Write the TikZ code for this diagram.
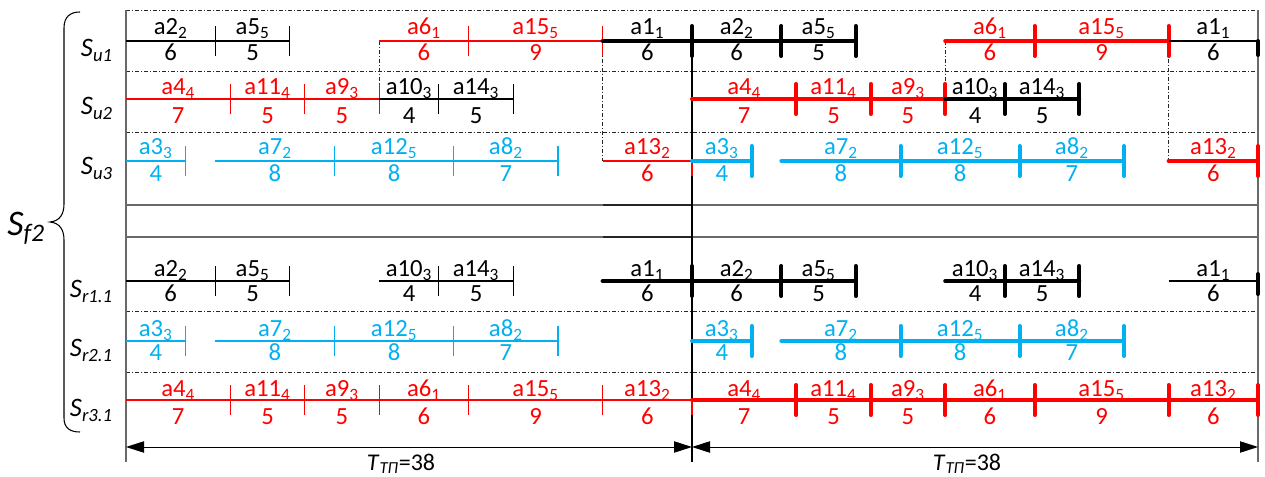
\documentclass[tikz,border=0pt]{standalone}
\usepackage{fontspec}
\setmainfont{Carlito}
\usetikzlibrary{arrows.meta}
\definecolor{cred}{RGB}{255,0,0}
\definecolor{cblue}{RGB}{0,176,240}
\definecolor{cgray}{RGB}{105,105,105}
\newcommand\rowY{}\newcommand\topB{}\newcommand\botB{}\newcommand\rowN{}
\newcommand\setrow[4]{\renewcommand\rowN{#1}\renewcommand\rowY{#2}\renewcommand\topB{#3}\renewcommand\botB{#4}}
\newcommand\tx[1]{126+14.8947*(#1)}
\newcommand\A[2]{a#1\textsubscript{#2}}
\newcommand\seg[7][-15]{%
  \draw[bar#3,draw=#2] ({\tx{#4}},{\rowY}) -- ({\tx{#5}},{\rowY});
  \draw[bar#3,draw=#2] ({\tx{#5}},{\rowY+(#1)}) -- ({\tx{#5}},{\rowY+15});
  \node[tasklab,text=#2,anchor=base] (\rowN-#5-a) at ({\tx{(#4+#5)/2}},{\topB}) {#6};
  \node[tasklab,text=#2,anchor=base] (\rowN-#5-b) at ({\tx{(#4+#5)/2}},{\botB}) {#7};
}
\begin{document}
\begin{tikzpicture}[x=0.75pt,y=-0.75pt,
  barthin/.style={line width=0.9pt},
  barthick/.style={line width=3pt,line cap=round},
  tasklab/.style={font=\fontsize{18.5}{20}\selectfont,inner sep=0pt},
  rowlab/.style={font=\fontsize{20}{22}\selectfont\itshape,inner sep=0pt,anchor=base east},
  tlab/.style={font=\fontsize{18}{20}\selectfont,inner sep=0pt,anchor=base},
  dashdotline/.style={line width=0.6pt,draw=black!85,dash pattern=on 3pt off 1.5pt on 0.75pt off 1.5pt},
  grayline/.style={line width=0.8pt,draw=cgray},
  dimline/.style={line width=0.7pt,{Triangle[length=13.5pt,width=8.5pt]}-{Triangle[length=13.5pt,width=8.5pt]}}]
\useasboundingbox (0,0) rectangle (1265,477);
% grid
\foreach \yy in {10,71,132,311,372}{\draw[dashdotline] (126,\yy) -- (1258,\yy);}
\foreach \yy in {205,237}{\draw[grayline] (126,\yy) -- (1258,\yy);
  \draw[line width=0.8pt,black!85] ({\tx{32}},\yy) -- ({\tx{38}},\yy);}
\coordinate (L0) at (126,10); \coordinate (L1) at (126,462);
\coordinate (R0) at (1258,10); \coordinate (R1) at (1258,462);
\coordinate (M0) at (692,41); \coordinate (M1) at (692,462);
\draw[grayline] (L0) -- (L1);
\draw[grayline] (R0) -- (R1);
\draw[line width=0.8pt] (M0) -- (M1);
% dash-dot connectors
\draw[dashdotline] ({\tx{17}},41) -- ({\tx{17}},99);
\draw[dashdotline] ({\tx{32}},41) -- ({\tx{32}},161);
\draw[dashdotline] ({\tx{55}},41) -- ({\tx{55}},99);
\draw[dashdotline] ({\tx{70}},41) -- ({\tx{70}},161);
% Su1
\setrow{su1}{41}{35}{61}
\seg{black}{thin}{0}{6}{\A{2}{2}}{6}
\seg{black}{thin}{6}{11}{\A{5}{5}}{5}
\seg{cred}{thin}{17}{23}{\A{6}{1}}{6}
\seg{cred}{thin}{23}{32}{\A{15}{5}}{9}
\seg{black}{thick}{32}{38}{\A{1}{1}}{6}
\seg{black}{thick}{38}{44}{\A{2}{2}}{6}
\seg{black}{thick}{44}{49}{\A{5}{5}}{5}
\seg{cred}{thick}{55}{61}{\A{6}{1}}{6}
\seg{cred}{thick}{61}{70}{\A{15}{5}}{9}
\seg[0]{black}{thin}{70}{76}{\A{1}{1}}{6}
\draw[barthick,black] ({\tx{76}},{\rowY}) -- ({\tx{76}},{\rowY+14});
% Su2
\setrow{su2}{99}{95}{124}
\seg{cred}{thin}{0}{7}{\A{4}{4}}{7}
\seg{cred}{thin}{7}{12}{\A{11}{4}}{5}
\seg{cred}{thin}{12}{17}{\A{9}{3}}{5}
\seg{black}{thin}{17}{21}{\A{10}{3}}{4}
\seg{black}{thin}{21}{26}{\A{14}{3}}{5}
\seg{cred}{thick}{38}{45}{\A{4}{4}}{7}
\seg{cred}{thick}{45}{50}{\A{11}{4}}{5}
\seg{cred}{thick}{50}{55}{\A{9}{3}}{5}
\seg{black}{thick}{55}{59}{\A{10}{3}}{4}
\seg{black}{thick}{59}{64}{\A{14}{3}}{5}
% Su3
\setrow{su3}{161}{155}{182}
\seg{cblue}{thin}{0}{4}{\A{3}{3}}{4}
\seg{cblue}{thin}{6}{14}{\A{7}{2}}{8}
\seg{cblue}{thin}{14}{22}{\A{12}{5}}{8}
\seg{cblue}{thin}{22}{29}{\A{8}{2}}{7}
\seg[0]{cred}{thin}{32}{38}{\A{13}{2}}{6}
\seg{cblue}{thick}{38}{42}{\A{3}{3}}{4}
\seg{cblue}{thick}{44}{52}{\A{7}{2}}{8}
\seg{cblue}{thick}{52}{60}{\A{12}{5}}{8}
\seg{cblue}{thick}{60}{67}{\A{8}{2}}{7}
\seg{cred}{thick}{70}{76}{\A{13}{2}}{6}
% Sr1.1
\setrow{sr11}{281}{277}{302}
\seg{black}{thin}{0}{6}{\A{2}{2}}{6}
\seg{black}{thin}{6}{11}{\A{5}{5}}{5}
\seg{black}{thin}{17}{21}{\A{10}{3}}{4}
\seg{black}{thin}{21}{26}{\A{14}{3}}{5}
\seg{black}{thick}{32}{38}{\A{1}{1}}{6}
\seg{black}{thick}{38}{44}{\A{2}{2}}{6}
\seg{black}{thick}{44}{49}{\A{5}{5}}{5}
\seg{black}{thick}{55}{59}{\A{10}{3}}{4}
\seg{black}{thick}{59}{64}{\A{14}{3}}{5}
\seg[0]{black}{thin}{70}{76}{\A{1}{1}}{6}
\draw[barthick,black] ({\tx{76}},{\rowY-7}) -- ({\tx{76}},{\rowY+13});
% Sr2.1
\setrow{sr21}{341}{337}{361}
\seg{cblue}{thin}{0}{4}{\A{3}{3}}{4}
\seg{cblue}{thin}{6}{14}{\A{7}{2}}{8}
\seg{cblue}{thin}{14}{22}{\A{12}{5}}{8}
\seg{cblue}{thin}{22}{29}{\A{8}{2}}{7}
\seg{cblue}{thick}{38}{42}{\A{3}{3}}{4}
\seg{cblue}{thick}{44}{52}{\A{7}{2}}{8}
\seg{cblue}{thick}{52}{60}{\A{12}{5}}{8}
\seg{cblue}{thick}{60}{67}{\A{8}{2}}{7}
% Sr3.1
\setrow{sr31}{400}{397}{425}
\seg{cred}{thin}{0}{7}{\A{4}{4}}{7}
\seg{cred}{thin}{7}{12}{\A{11}{4}}{5}
\seg{cred}{thin}{12}{17}{\A{9}{3}}{5}
\seg{cred}{thin}{17}{23}{\A{6}{1}}{6}
\seg{cred}{thin}{23}{32}{\A{15}{5}}{9}
\seg[0]{cred}{thin}{32}{38}{\A{13}{2}}{6}
\seg{cred}{thick}{38}{45}{\A{4}{4}}{7}
\seg{cred}{thick}{45}{50}{\A{11}{4}}{5}
\seg{cred}{thick}{50}{55}{\A{9}{3}}{5}
\seg{cred}{thick}{55}{61}{\A{6}{1}}{6}
\seg{cred}{thick}{61}{70}{\A{15}{5}}{9}
\seg{cred}{thick}{70}{76}{\A{13}{2}}{6}
% row labels
\node[rowlab] (lsu1) at (113,57) {S\textsubscript{u1}};
\node[rowlab] (lsu2) at (113,115) {S\textsubscript{u2}};
\node[rowlab] (lsu3) at (113,175) {S\textsubscript{u3}};
\node[rowlab] (lsr1) at (113,298) {S\textsubscript{r1.1}};
\node[rowlab] (lsr2) at (113,357) {S\textsubscript{r2.1}};
\node[rowlab] (lsr3) at (113,417) {S\textsubscript{r3.1}};
\node[font=\fontsize{27}{29}\selectfont\itshape,inner sep=0pt,anchor=base east] (sf2) at (45,236) {S\textsubscript{f2}};
% brace
\draw[line width=0.8pt] (80,12) .. controls (70,12) and (64,17) .. (64,28) -- (64,204) .. controls (64,214) and (60,221) .. (50,222) .. controls (60,223) and (64,230) .. (64,240) -- (64,418) .. controls (64,428) and (70,432) .. (80,432);
% dimension arrows
\coordinate (a0) at (126,447); \coordinate (a1) at (692,447); \coordinate (a2) at (1258,447);
\draw[dimline] (a0) -- (a1);
\draw[dimline] (a1) -- (a2);
\node[tlab] (t1) at (401,470) {\textit{T}\textsubscript{\textit{ТП}}=38};
\node[tlab] (t2) at (967,470) {\textit{T}\textsubscript{\textit{ТП}}=38};
\end{tikzpicture}
\end{document}
